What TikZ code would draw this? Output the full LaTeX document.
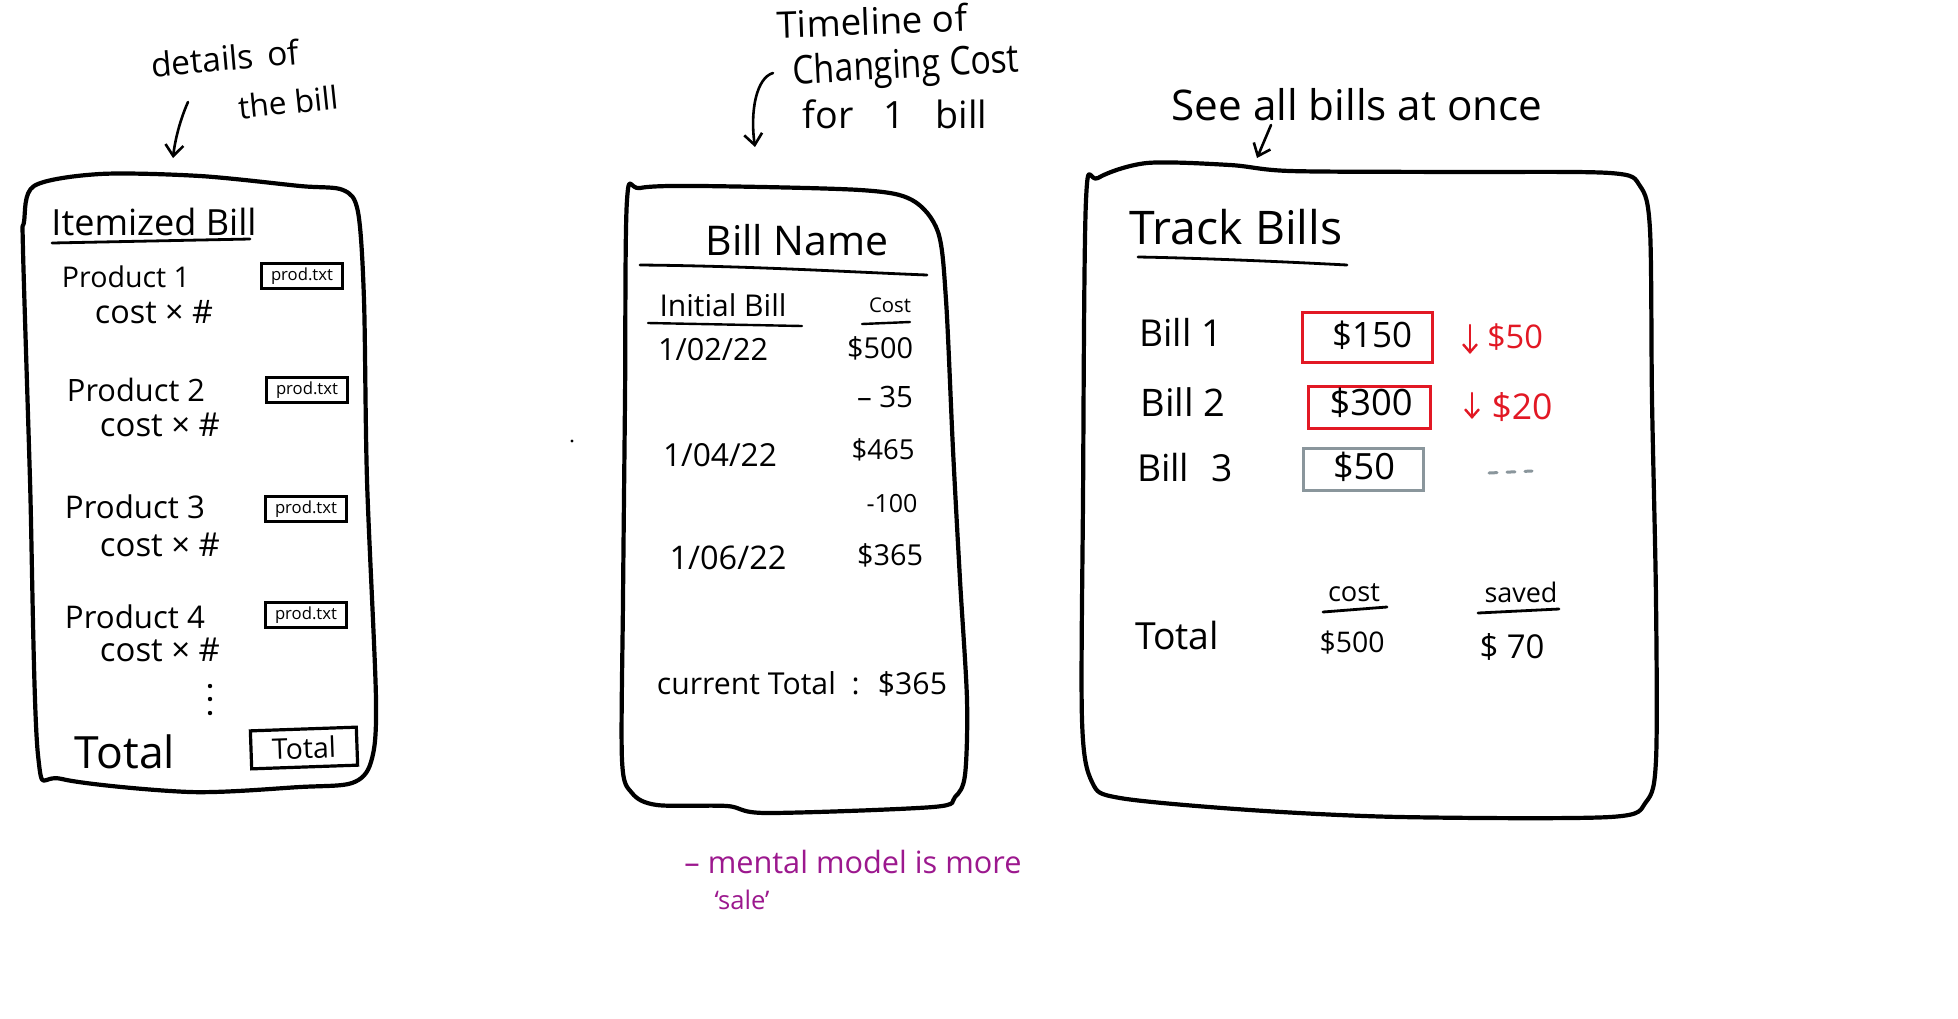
\documentclass[tikz,border=0pt]{standalone}
\usepackage{fontspec}
\setmainfont{Open Sans}
\usepackage{graphicx}
\usetikzlibrary{arrows.meta}
\definecolor{inkred}{RGB}{226,24,36}
\definecolor{inkgray}{RGB}{138,150,156}
\definecolor{inkpurple}{RGB}{156,24,142}
\newcommand{\fitw}[2]{\resizebox{#1pt}{!}{#2}}
\begin{document}
\begin{tikzpicture}[x=1pt,y=-1pt,
  txt/.style={inner sep=0pt, outer sep=0pt, anchor=center},
  outline/.style={line width=4.2pt, line join=round, line cap=round},
  pbox/.style={draw, line width=2.4pt, inner sep=0pt, minimum width=81pt, minimum height=25pt},
  mbox/.style={draw, line width=3pt, inner sep=0pt},
  uline/.style={line width=2.8pt, line cap=round},
  harrow/.style={line width=2.6pt, line cap=round, -{Straight Barb[length=11pt, width=18pt, line width=2.6pt]}},
  rarrow/.style={line width=2.4pt, line cap=round, inkred, -{Straight Barb[length=8pt, width=14pt, line width=2.4pt]}},
]
\fill[white] (0,0) rectangle (1958,1018);
\useasboundingbox (0,0) rectangle (1958,1018);

% ---------------- annotations above ----------------
\node[txt, rotate=5] (detA) at (225,58) {\fitw{148}{details\hspace{0.4em}of}};
\node[txt, rotate=6] (detB) at (288,102) {\fitw{100}{the bill}};
\coordinate (a1s) at (188,102);
\coordinate (a1e) at (173,158);
\draw[harrow] (a1s) .. controls (180,120) and (175,140) .. (a1e);

\node[txt, rotate=2] (tlA) at (872,21) {\fitw{190}{Timeline of}};
\node[txt, rotate=3] (tlB) at (906,68) {\resizebox{227pt}{30pt}{Changing Cost}};
\node[txt] (tlC) at (895,114) {\fitw{184}{for\hspace{0.8em}1\hspace{0.8em}bill}};
\coordinate (a2s) at (773,73);
\coordinate (a2e) at (755,147);
\draw[harrow] (a2s) .. controls (756,78) and (750,112) .. (a2e);

\node[txt] (seeall) at (1357,105) {\fitw{371}{See all bills at once}};
\coordinate (a3s) at (1271,125);
\coordinate (a3e) at (1257,158);
\draw[harrow] (a3s) -- (a3e);

% stray dot
\fill (572,441) circle (1.6);

% ---------------- left box: itemized bill ----------------
\draw[outline] plot[smooth cycle, tension=0.5] coordinates {(24,222) (34,186) (100,174) (200,176) (300,186) (343,190) (358,212) (364,300) (367,480) (376,700) (371,762) (352,783) (300,787) (190,792) (62,779) (38,755) (30,480) (23,250)};

\node[txt] (itm) at (154,222) {\fitw{205}{Itemized Bill}};
\draw[uline] (52,243) -- (250,239);

\node[txt] (pr1) at (126,277) {\fitw{128}{Product 1}};
\node[pbox] (pb1) at (302,276) {\fitw{62}{prod.txt}};
\node[txt] (cx1) at (154,312) {\fitw{118}{cost × \#}};

\node[txt] (pr2) at (136,390) {\fitw{138}{Product 2}};
\node[pbox] (pb2) at (307,390) {\fitw{62}{prod.txt}};
\node[txt] (cx2) at (160,425) {\fitw{120}{cost × \#}};

\node[txt] (pr3) at (135,507) {\fitw{140}{Product 3}};
\node[pbox] (pb3) at (306,509) {\fitw{62}{prod.txt}};
\node[txt] (cx3) at (160,545) {\fitw{120}{cost × \#}};

\node[txt] (pr4) at (135,617) {\fitw{140}{Product 4}};
\node[pbox] (pb4) at (306,615) {\fitw{62}{prod.txt}};
\node[txt] (cx4) at (160,650) {\fitw{120}{cost × \#}};

\fill (210,686) circle (2.2) (210,699) circle (2.2) (210,713) circle (2.2);

\node[txt] (ltot) at (125,752) {\fitw{100}{Total}};
\node[mbox, line width=3.2pt, minimum width=106pt, minimum height=38pt, rotate=2] (ltotb) at (304,748) {\fitw{64}{Total}};

% ---------------- middle box: bill name ----------------
\draw[outline] plot[smooth cycle, tension=0.5] coordinates {(627,200) (640,188) (700,186) (860,190) (912,200) (938,232) (946,300) (953,450) (960,580) (967,700) (965,775) (955,797) (933,807) (767,813) (727,806) (657,805) (632,793) (622,760) (623,600) (625,400)};

\node[txt] (bname) at (797,240) {\fitw{183}{Bill Name}};
\draw[uline] (640,265) .. controls (750,266) and (850,272) .. (927,275);

\node[txt] (init) at (723,305) {\fitw{127}{Initial Bill}};
\draw[uline, line width=2.4pt] (648,323) -- (802,326);
\node[txt] (costh) at (890,305) {\fitw{42}{Cost}};
\draw[uline, line width=2.4pt] (862,324) -- (910,322);

\node[txt] (d1) at (713,350) {\fitw{110}{1/02/22}};
\node[txt] (v1) at (880,348) {\fitw{66}{\$500}};
\node[txt] (m1) at (885,397) {\fitw{56}{-- 35}};
\node[txt] (d2) at (720,455) {\fitw{114}{1/04/22}};
\node[txt] (v2) at (883,450) {\fitw{63}{\$465}};
\node[txt] (m2) at (892,504) {\fitw{51}{-100}};
\node[txt] (d3) at (728,558) {\fitw{117}{1/06/22}};
\node[txt] (v3) at (890,555) {\fitw{66}{\$365}};

\node[txt] (curtot) at (802,684) {\fitw{290}{current Total \ : \ \$365}};

\node[txt, text=inkpurple] (note1) at (853,862) {\fitw{337}{-- mental model is more}};
\node[txt, text=inkpurple] (note2) at (742,900) {\fitw{55}{‘sale’}};

% ---------------- right box: track bills ----------------
\draw[outline] plot[smooth cycle, tension=0.5] coordinates {(1086,200) (1098,178) (1147,163) (1230,165) (1290,171) (1450,172) (1610,173) (1640,186) (1650,230) (1652,400) (1656,600) (1656,760) (1646,802) (1610,817) (1400,817) (1250,810) (1120,798) (1092,782) (1082,720) (1083,500)};

\node[txt] (track) at (1236,227) {\fitw{213}{Track Bills}};
\draw[uline] (1138,257) .. controls (1200,258) and (1290,262) .. (1347,265);

\node[txt] (b1) at (1181,332) {\fitw{83}{Bill 1}};
\node[mbox, draw=inkred, minimum width=130pt, minimum height=50pt] (rb1) at (1367,337) {};
\node[txt] (c1) at (1372,335) {\fitw{80}{\$150}};
\coordinate (r1s) at (1470,325);
\coordinate (r1e) at (1470,354);
\draw[rarrow] (r1s) -- (r1e);
\node[txt, text=inkred] (s1) at (1515,337) {\fitw{56}{\$50}};

\node[txt] (b2) at (1183,402) {\fitw{85}{Bill 2}};
\node[mbox, draw=inkred, minimum width=122pt, minimum height=42pt] (rb2) at (1369,407) {};
\node[txt] (c2) at (1371,403) {\fitw{83}{\$300}};
\coordinate (r2s) at (1472,393);
\coordinate (r2e) at (1472,419);
\draw[rarrow] (r2s) -- (r2e);
\node[txt, text=inkred] (s2) at (1522,407) {\fitw{61}{\$20}};

\node[txt] (b3) at (1185,468) {\fitw{96}{Bill\hspace{0.6em}3}};
\node[mbox, draw=inkgray, minimum width=120pt, minimum height=42pt] (gb3) at (1363,469) {};
\node[txt] (c3) at (1364,467) {\fitw{62}{\$50}};
\draw[inkgray, line width=3pt, line cap=round, dash pattern=on 8pt off 10pt] (1489,473) -- (1532,471);

\node[txt] (tcost) at (1354,593) {\fitw{52}{cost}};
\draw[uline] (1323,612) -- (1387,607);
\node[txt] (tsaved) at (1521,592) {\fitw{73}{saved}};
\draw[uline] (1478,613) -- (1559,609);

\node[txt] (rtot) at (1177,635) {\fitw{84}{Total}};
\node[txt] (tc) at (1352,643) {\fitw{65}{\$500}};
\node[txt] (ts) at (1512,647) {\fitw{65}{\$ 70}};

\end{tikzpicture}
\end{document}
